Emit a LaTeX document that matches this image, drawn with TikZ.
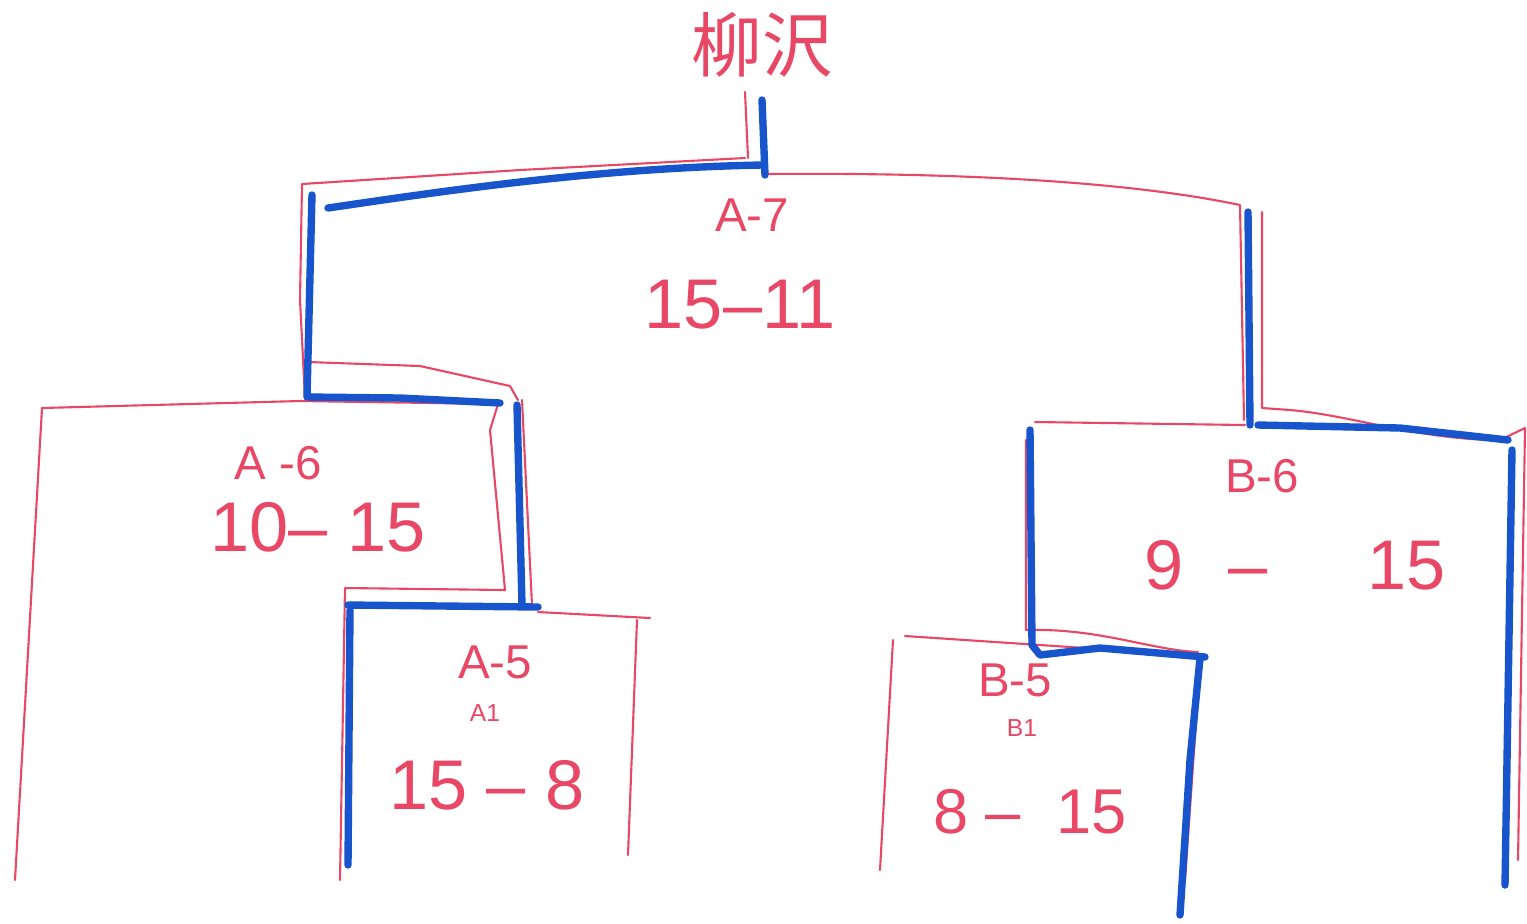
\documentclass[tikz,border=0pt]{standalone}
\usepackage{fontspec}
\setmainfont{Liberation Sans}
\newfontfamily\cjk{Noto Sans CJK JP}
\definecolor{pen}{RGB}{232,72,102}
\definecolor{marker}{RGB}{24,84,204}

\begin{document}
\begin{tikzpicture}[x=0.01cm, y=-0.01cm, line cap=round, line join=round]
    \tikzstyle{redline} = [draw=pen, line width=0.6pt]
    \tikzstyle{winline} = [draw=marker, line width=2.1pt]
    \tikzstyle{match} = [text=pen, inner sep=0pt, font=\fontsize{13.5}{13.5}\selectfont]
    \tikzstyle{score} = [text=pen, inner sep=0pt, font=\fontsize{20}{20}\selectfont]
    \tikzstyle{seed} = [text=pen, inner sep=0pt, font=\fontsize{7}{7}\selectfont]

    \fill[white] (0,0) rectangle (1527,923);
    \useasboundingbox (0,0) rectangle (1527,923);

    % names and scores
    \node[text=pen, inner sep=0pt, font=\cjk\fontsize{20}{20}\selectfont] (title) at (762,45) {柳沢};
    \node[match] (a7) at (752,215) {A-7};
    \node[score] (a7s) at (740,305) {15–11};
    \node[match] (a6) at (278,463) {A -6};
    \node[score] (a6s) at (318,527) {10– 15};
    \node[match] (a5) at (495,662) {A-5};
    \node[seed] (a1) at (485,713) {A1};
    \node[score] (a5s) at (487,785) {15 – 8};
    \node[match] (b6) at (1262,476) {B-6};
    \node[score] (b6s) at (1295,565) {9\hspace{0.45cm}–\hspace{1.0cm}15};
    \node[match] (b5) at (1015,680) {B-5};
    \node[seed] (b1) at (1022,728) {B1};
    \node[score, font=\fontsize{18}{18}\selectfont] (b5s) at (1030,812) {8 – \ 15};

    % red bracket
    \draw[redline] (745,92) -- (748,158);
    \draw[redline] (745,158) -- (520,170) -- (302,184) -- (300,300) -- (305,398);
    \draw[redline] (766,174) .. controls (1000,172) and (1150,186) .. (1240,205) -- (1244,420);
    \draw[redline] (308,362) -- (420,366) -- (510,386) -- (518,400);
    \draw[redline] (42,408) -- (300,401) -- (498,404) -- (490,430) -- (505,590) -- (345,588) -- (340,880);
    \draw[redline] (42,408) -- (15,880);
    \draw[redline] (522,400) -- (532,605);
    \draw[redline] (538,612) -- (650,618);
    \draw[redline] (637,620) -- (628,855);
    \draw[redline] (1262,212) -- (1262,408) -- (1290,410) .. controls (1350,415) and (1420,440) .. (1500,440) -- (1525,428) -- (1518,860);
    \draw[redline] (1035,422) -- (1245,425);
    \draw[redline] (1026,440) -- (1026,630) .. controls (1100,628) and (1150,650) .. (1198,652);
    \draw[redline] (905,636) -- (1190,655);
    \draw[redline] (893,640) -- (880,870);
    \draw[redline] (1200,665) -- (1185,880);

    % blue winner path
    \draw[winline] (762,100) -- (765,175);
    \draw[winline] (328,208) .. controls (450,190) and (600,168) .. (762,165);
    \draw[winline] (312,195) -- (307,397) -- (400,398) -- (500,403);
    \draw[winline] (517,405) -- (522,605);
    \draw[winline] (348,605) -- (538,607);
    \draw[winline] (350,610) -- (348,865);
    \draw[winline] (1248,212) -- (1250,425);
    \draw[winline] (1258,425) -- (1400,428) -- (1508,440);
    \draw[winline] (1512,450) -- (1505,885);
    \draw[winline] (1030,430) -- (1032,645) -- (1040,655) -- (1100,648) -- (1205,657);
    \draw[winline] (1200,658) -- (1190,760) -- (1180,915);
\end{tikzpicture}
\end{document}
